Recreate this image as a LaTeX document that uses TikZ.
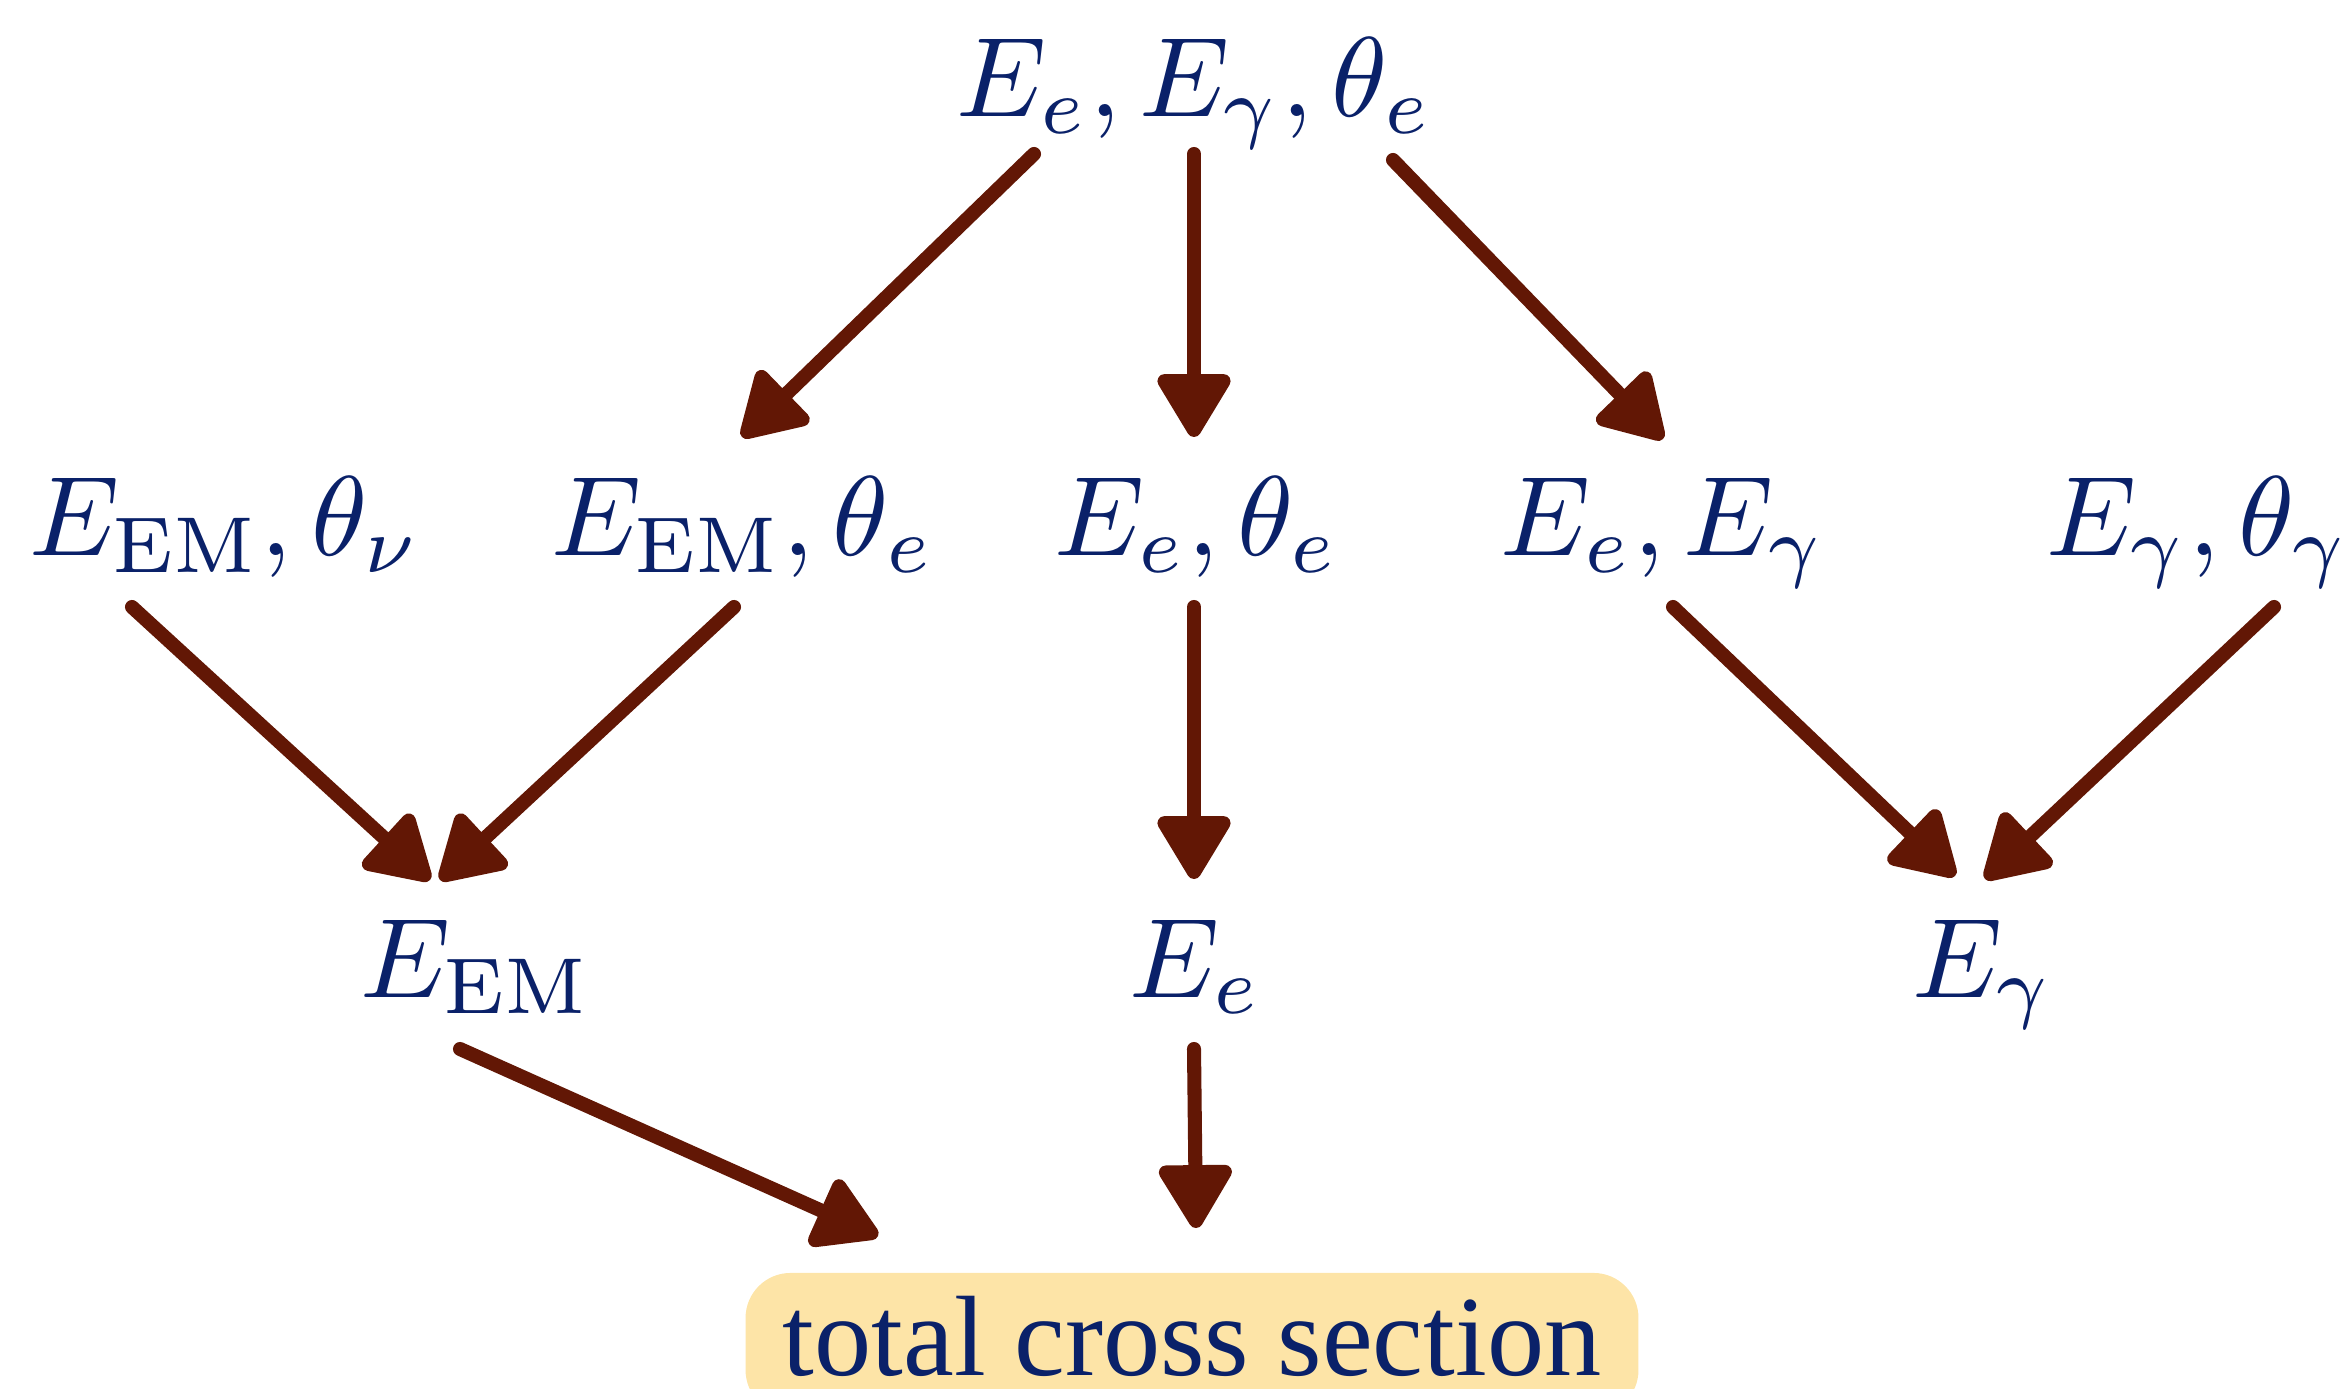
\RequirePackage{fix-cm}
\documentclass[tikz,border=0pt]{standalone}
\usepackage{graphicx}
\usepackage{fontspec}
\newfontfamily\timesf{Liberation Serif}
\usetikzlibrary{arrows.meta,calc}
\definecolor{txtc}{RGB}{10,33,105}
\definecolor{arrc}{RGB}{98,23,5}
\definecolor{boxc}{RGB}{253,228,167}
\newcommand{\scaledmath}[1]{\scalebox{3.22}{$#1$}}
\tikzset{
  lab/.style={anchor=base, inner sep=0pt, text=txtc, font=\fontsize{10}{12}\selectfont},
  arr/.style={draw=arrc, line width=4pt, line cap=round,
    -{Triangle[length=7mm,width=8mm,round]}},
  totbox/.style={anchor=base, fill=boxc, rounded corners=0.45cm, text=txtc,
    font=\fontsize{32.5}{38}\timesf, inner xsep=0.37cm, inner ysep=0pt,
    text height=1.02cm, text depth=0.4cm}
}
\begin{document}
\begin{tikzpicture}[x=0.01cm,y=-0.01cm]
\useasboundingbox (0,0) rectangle (2349,1389);
\node[lab] (top) at (1195,117) {\scaledmath{E_e, E_\gamma, \theta_e}};
\node[lab] (n1) at (225,556) {\scaledmath{E_{\mathrm{EM}}, \theta_\nu}};
\node[lab] (n2) at (743,556) {\scaledmath{E_{\mathrm{EM}}, \theta_e}};
\node[lab] (n3) at (1197,556) {\scaledmath{E_e, \theta_e}};
\node[lab] (n4) at (1663,556) {\scaledmath{E_e, E_\gamma}};
\node[lab] (n5) at (2198,556) {\scaledmath{E_\gamma, \theta_\gamma}};
\node[lab] (m1) at (476,997) {\scaledmath{E_{\mathrm{EM}}}};
\node[lab] (m2) at (1196,997) {\scaledmath{E_e}};
\node[lab] (m3) at (1983,997) {\scaledmath{E_\gamma}};
\node[totbox] (tot) at (1192,1375) {total cross section};
\draw[arr] ($(top.base)+(-161,37)$) -- ($(n2.base)+(-1,-119)$);
\draw[arr] ($(top.base)+(-1,37)$) -- ($(n3.base)+(-3,-119)$);
\draw[arr] ($(top.base)+(198,43)$) -- ($(n4.base)+(0,-117)$);
\draw[arr] ($(n1.base)+(-93,51)$) -- ($(m1.base)+(-46,-117)$);
\draw[arr] ($(n2.base)+(-9,51)$) -- ($(m1.base)+(-36,-117)$);
\draw[arr] ($(n3.base)+(-3,51)$) -- ($(m2.base)+(-2,-118)$);
\draw[arr] ($(n4.base)+(10,51)$) -- ($(m3.base)+(-28,-121)$);
\draw[arr] ($(n5.base)+(76,51)$) -- ($(m3.base)+(2,-118)$);
\draw[arr] ($(m1.base)+(-16,52)$) -- ($(tot.base)+(-314,-139)$);
\draw[arr] ($(m2.base)+(-2,52)$) -- ($(tot.base)+(4,-147)$);
\end{tikzpicture}
\end{document}
